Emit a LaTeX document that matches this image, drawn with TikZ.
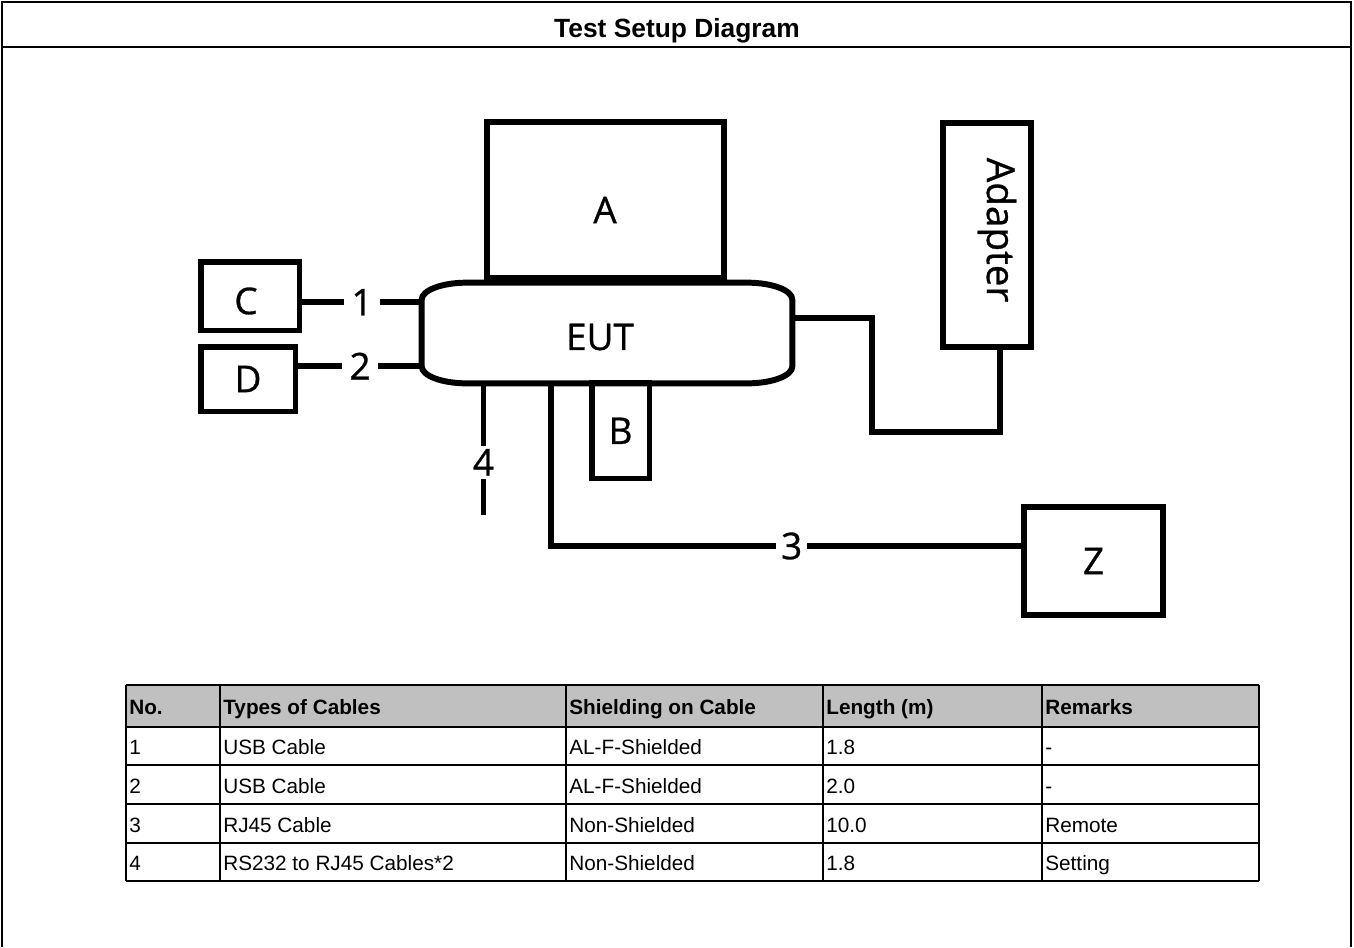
\documentclass[tikz,border=0pt]{standalone}
\usepackage{fontspec}
\setmainfont{Liberation Sans}
\newfontfamily\paintfont{Open Sans}[FakeBold=0.8]
\usetikzlibrary{positioning,calc}
\definecolor{hdrgray}{RGB}{192,192,192}

\begin{document}
\begin{tikzpicture}[x=0.02cm,y=-0.02cm,
  wire/.style={line width=3.4pt},
  box/.style={draw,line width=3.4pt,inner sep=0pt,font=\paintfont\fontsize{21}{25}\selectfont},
  lbl/.style={inner sep=0pt,font=\paintfont\fontsize{21}{25}\selectfont},
  tag/.style={fill=white,inner xsep=0.15cm,inner ysep=0.1cm,font=\paintfont\fontsize{21}{25}\selectfont},
  frame/.style={line width=1.1pt},
  grid/.style={line width=0.7pt},
  cell/.style={anchor=base west,inner sep=0pt,font=\fontsize{11.8}{14}\selectfont}]
  \useasboundingbox (0,0) rectangle (1354,947);
  \draw[frame] (2,947) -- (2,2) -- (1351,2) -- (1351,947);
  \draw[frame] (2,47) -- (1351,47);
  \node[font=\bfseries\fontsize{15}{18}\selectfont] (title) at (677,31) {Test Setup Diagram};

  \node[box,minimum width=4.75cm,minimum height=3.13cm] (A) at (605.25,199.75) {};
  \node[lbl] (Atext) at (605,210) {A};
  \node[minimum width=7.4cm,minimum height=2cm,inner sep=0pt] (EUT) at (607,333) {};
  \node[lbl] (EUTtext) at (600,337) {EUT};
  \draw[wire] ([xshift=0.9cm]EUT.north west) -- ([xshift=-0.9cm]EUT.north east)
    arc[start angle=90,end angle=0,x radius=0.9cm,y radius=0.34cm]
    -- ([yshift=0.34cm]EUT.south east)
    arc[start angle=0,end angle=-90,x radius=0.9cm,y radius=0.34cm]
    -- ([xshift=0.9cm]EUT.south west)
    arc[start angle=270,end angle=180,x radius=0.9cm,y radius=0.34cm]
    -- ([yshift=-0.34cm]EUT.north west)
    arc[start angle=180,end angle=90,x radius=0.9cm,y radius=0.34cm] -- cycle;
  \node[box,minimum width=1.98cm,minimum height=1.37cm] (C) at (250,296.25) {};
  \node[lbl] (Ctext) at (246,301) {C};
  \node[box,minimum width=1.9cm,minimum height=1.3cm] (D) at (248,379) {D};
  \node[box,minimum width=1.16cm,minimum height=1.91cm] (B) at (620.5,430.75) {B};
  \node[box,minimum width=2.78cm,minimum height=2.16cm] (Z) at (1093.5,561) {Z};
  \node[box,minimum width=1.76cm,minimum height=4.48cm] (Adp) at (987,235) {};
  \node[lbl,rotate=-90,font=\paintfont\fontsize{22}{26}\selectfont] (AdpText) at (997,230) {Adapter};

  \draw[wire] ([yshift=-0.12cm]C.east) -- node[tag] (n1) {1} ([yshift=-0.12cm]C.east -| EUT.west);
  \draw[wire] ([yshift=0.26cm]D.east) -- node[tag] (n2) {2} ([yshift=0.26cm]D.east -| EUT.west);
  \coordinate (end4) at (483.5,515);
  \draw[wire] (EUT.south -| end4) -- node[tag,pos=0.6,inner xsep=0.1cm,inner ysep=0.06cm] (n4) {4} (end4);
  \coordinate (bend3) at (551,546);
  \draw[wire] (EUT.south -| bend3) |- node[tag,pos=0.756,inner xsep=0.1cm] (n3) {3} ([yshift=0.3cm]Z.west);
  \coordinate (bend5) at (872,432);
  \draw[wire] ([yshift=0.3cm]EUT.east) -| (bend5) -| ([xshift=0.26cm]Adp.south);

  \fill[hdrgray] (126,685) rectangle (1259,727);
  \foreach \y in {685,727,765,804,843,881} \draw[grid] (126,\y) -- (1259,\y);
  \foreach \x in {126,220,566,823,1042,1259} \draw[grid] (\x,685) -- (\x,881);
  \foreach \x/\t in {126/No.,220/Types of Cables,566/Shielding on Cable,823/Length (m),1042/Remarks}
    \node[cell,font=\bfseries\fontsize{11.8}{14}\selectfont] (h\x) at (\x+3,714.5) {\t};
  \foreach \y/\n/\k/\s/\l/\r in {754/1/USB Cable/AL-F-Shielded/1.8/-,
      793/2/USB Cable/AL-F-Shielded/2.0/-,
      832/3/RJ45 Cable/Non-Shielded/10.0/Remote,
      870/4/RS232 to RJ45 Cables*2/Non-Shielded/1.8/Setting} {
    \node[cell] (r\n a) at (129,\y) {\n};
    \node[cell] (r\n b) at (223,\y) {\k};
    \node[cell] (r\n c) at (569,\y) {\s};
    \node[cell] (r\n d) at (826,\y) {\l};
    \node[cell] (r\n e) at (1045,\y) {\r};
  }
\end{tikzpicture}
\end{document}
